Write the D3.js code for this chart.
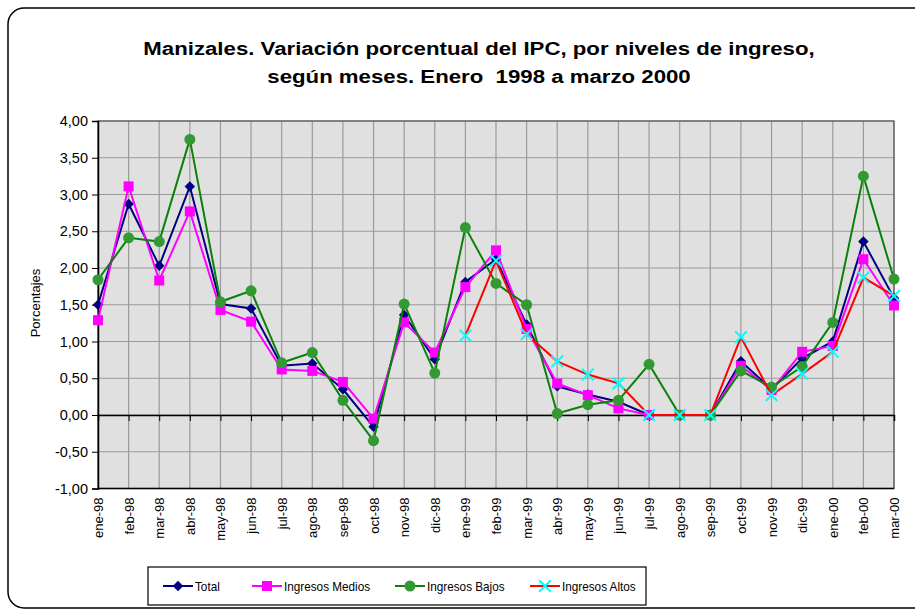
<!DOCTYPE html>
<html>
<head>
<meta charset="utf-8">
<script src="https://cdn.jsdelivr.net/npm/d3@7"></script>
<style>
  body { margin: 0; background: #fff; }
  text { font-family: "Liberation Sans", Arial, sans-serif; fill: #000; }
</style>
</head>
<body>
<div id="canvas"></div>
<script>
// Data
var months = ["ene-98","feb-98","mar-98","abr-98","may-98","jun-98","jul-98","ago-98","sep-98","oct-98","nov-98","dic-98",
              "ene-99","feb-99","mar-99","abr-99","may-99","jun-99","jul-99","ago-99","sep-99","oct-99","nov-99","dic-99",
              "ene-00","feb-00","mar-00"];
var total   = [1.50,2.87,2.03,3.11,1.51,1.45,0.67,0.70,0.35,-0.16,1.36,0.76,1.81,2.12,1.23,0.39,0.28,0.18,0,0,0,0.73,0.35,0.77,1.00,2.36,1.59];
var medios  = [1.29,3.11,1.83,2.77,1.43,1.27,0.62,0.60,0.45,-0.05,1.26,0.85,1.74,2.24,1.17,0.43,0.27,0.09,0,0,0,0.67,0.34,0.86,0.94,2.12,1.49];
var bajos   = [1.84,2.41,2.36,3.75,1.54,1.69,0.71,0.85,0.20,-0.35,1.51,0.57,2.55,1.79,1.50,0.02,0.14,0.20,0.69,0,0,0.60,0.38,0.66,1.26,3.25,1.85];
var altos   = [null,null,null,null,null,null,null,null,null,null,null,null,
               1.08,2.10,1.10,0.73,0.55,0.43,0,0,0,1.06,0.27,0.56,0.86,1.87,1.62];
var yTicks  = [-1,-0.5,0,0.5,1,1.5,2,2.5,3,3.5,4];

var w = 915, h = 610;
var plot = {left: 98, right: 894, top: 121, bottom: 488.5};

var svg = d3.select("#canvas")
    .append("svg")
    .attr("width", w)
    .attr("height", h);

// outer frame (right side runs off the picture)
svg.append("rect")
    .attr("x", 8).attr("y", 8)
    .attr("width", 930).attr("height", 600)
    .attr("rx", 16)
    .attr("fill", "#fff")
    .attr("stroke", "#000")
    .attr("stroke-width", 1.5);

// title, stretched a little to match the original's width
var title = svg.append("text")
    .attr("transform", "translate(479,0) scale(1.17,1)")
    .attr("text-anchor", "middle")
    .style("font-size", "19px")
    .style("font-weight", "bold")
    .style("white-space", "pre");
title.append("tspan").attr("x", 0).attr("y", 55)
    .text("Manizales. Variación porcentual del IPC, por niveles de ingreso,");
title.append("tspan").attr("x", 0).attr("y", 83)
    .text("según meses. Enero  1998 a marzo 2000");

var x = d3.scalePoint()
    .domain(months)
    .range([plot.left, plot.right]);

var y = d3.scaleLinear()
    .domain([-1, 4])
    .range([plot.bottom, plot.top]);

// plot background
svg.append("rect")
    .attr("x", plot.left).attr("y", plot.top)
    .attr("width", plot.right - plot.left)
    .attr("height", plot.bottom - plot.top)
    .attr("fill", "#e0e0e0");

// gridlines
svg.append("g")
    .selectAll("line")
    .data(yTicks)
    .join("line")
    .attr("x1", plot.left).attr("x2", plot.right)
    .attr("y1", d => y(d)).attr("y2", d => y(d))
    .attr("stroke", "#9a9a9a")
    .attr("stroke-width", 1.2);

svg.append("g")
    .selectAll("line")
    .data(months)
    .join("line")
    .attr("x1", d => x(d)).attr("x2", d => x(d))
    .attr("y1", plot.top).attr("y2", plot.bottom)
    .attr("stroke", "#9a9a9a")
    .attr("stroke-width", 1.2);

// plot border
svg.append("rect")
    .attr("x", plot.left).attr("y", plot.top)
    .attr("width", plot.right - plot.left)
    .attr("height", plot.bottom - plot.top)
    .attr("fill", "none")
    .attr("stroke", "#555")
    .attr("stroke-width", 1.2);
svg.append("line")
    .attr("x1", plot.left).attr("x2", plot.right)
    .attr("y1", plot.bottom).attr("y2", plot.bottom)
    .attr("stroke", "#000").attr("stroke-width", 1.5);

// y axis
var yAxis = svg.append("g")
    .attr("transform", `translate(${plot.left},0)`)
    .call(d3.axisLeft(y).tickValues(yTicks).tickSize(6).tickPadding(4)
        .tickFormat(d => d3.format(".2f")(d).replace(".", ",").replace("−", "-")));
yAxis.select(".domain").attr("stroke", "#000").attr("stroke-width", 1.5);
yAxis.selectAll("text").style("font-size", "14.5px").attr("font-family", null);

// x axis at zero, ticks only
var xAxis = svg.append("g")
    .attr("transform", `translate(0,${y(0)})`)
    .call(d3.axisBottom(x).tickSize(6).tickFormat(""));
xAxis.select(".domain").attr("stroke", "#000").attr("stroke-width", 1.5);

// month labels at the bottom
svg.append("g")
    .selectAll("text")
    .data(months)
    .join("text")
    .attr("transform", d => `translate(${x(d) + 5},${plot.bottom + 9}) rotate(-90)`)
    .attr("text-anchor", "end")
    .style("font-size", "13px")
    .text(d => d);

// y title
svg.append("text")
    .attr("transform", "translate(40,303) rotate(-90)")
    .attr("text-anchor", "middle")
    .style("font-size", "13px")
    .text("Porcentajes");

var series = [
    {name: "Total", values: total, line: "#000080", fill: "#000080", marker: "diamond"},
    {name: "Ingresos Medios", values: medios, line: "#ff00ff", fill: "#ff00ff", marker: "square"},
    {name: "Ingresos Bajos", values: bajos, line: "#0a820a", fill: "#339933", marker: "circle"},
    {name: "Ingresos Altos", values: altos, line: "#ff0000", fill: "#00ffff", marker: "cross"}
];

var lineGen = d3.line()
    .defined(d => d.v != null)
    .x(d => x(d.m))
    .y(d => y(d.v));

var symbols = {
    diamond: d3.symbol().type(d3.symbolDiamond2).size(70),
    square: d3.symbol().type(d3.symbolSquare).size(100),
    circle: d3.symbol().type(d3.symbolCircle).size(95),
    cross: d3.symbol().type(d3.symbolX).size(90)
};

function drawMarker(g, s) {
    var p = g.append("path").attr("d", symbols[s.marker]());
    if (s.marker === "cross") {
        p.attr("fill", "none").attr("stroke", s.fill).attr("stroke-width", 2);
    } else {
        p.attr("fill", s.fill);
    }
}

series.forEach(function(s) {
    var pts = months.map((m, i) => ({m: m, v: s.values[i]}));
    svg.append("path")
        .datum(pts)
        .attr("d", lineGen)
        .attr("fill", "none")
        .attr("stroke", s.line)
        .attr("stroke-width", 2);
    svg.append("g")
        .selectAll("g")
        .data(pts.filter(d => d.v != null))
        .join("g")
        .attr("transform", d => `translate(${x(d.m)},${y(d.v)})`)
        .each(function() { drawMarker(d3.select(this), s); });
});

// legend
var legend = svg.append("g");
legend.append("rect")
    .attr("x", 148).attr("y", 567)
    .attr("width", 498).attr("height", 38)
    .attr("fill", "#fff")
    .attr("stroke", "#000")
    .attr("stroke-width", 1.2);
var legendX = [163, 252, 395, 530];
series.forEach(function(s, i) {
    var g = legend.append("g").attr("transform", `translate(${legendX[i]},586)`);
    g.append("line").attr("x1", 0).attr("x2", 30)
        .attr("stroke", s.line).attr("stroke-width", 2);
    var m = g.append("g").attr("transform", "translate(15,0)");
    drawMarker(m, s);
    g.append("text")
        .attr("transform", "translate(32,0) scale(0.87,1)")
        .attr("dy", "0.35em")
        .style("font-size", "13.5px")
        .text(s.name);
});
</script>
</body>
</html>
